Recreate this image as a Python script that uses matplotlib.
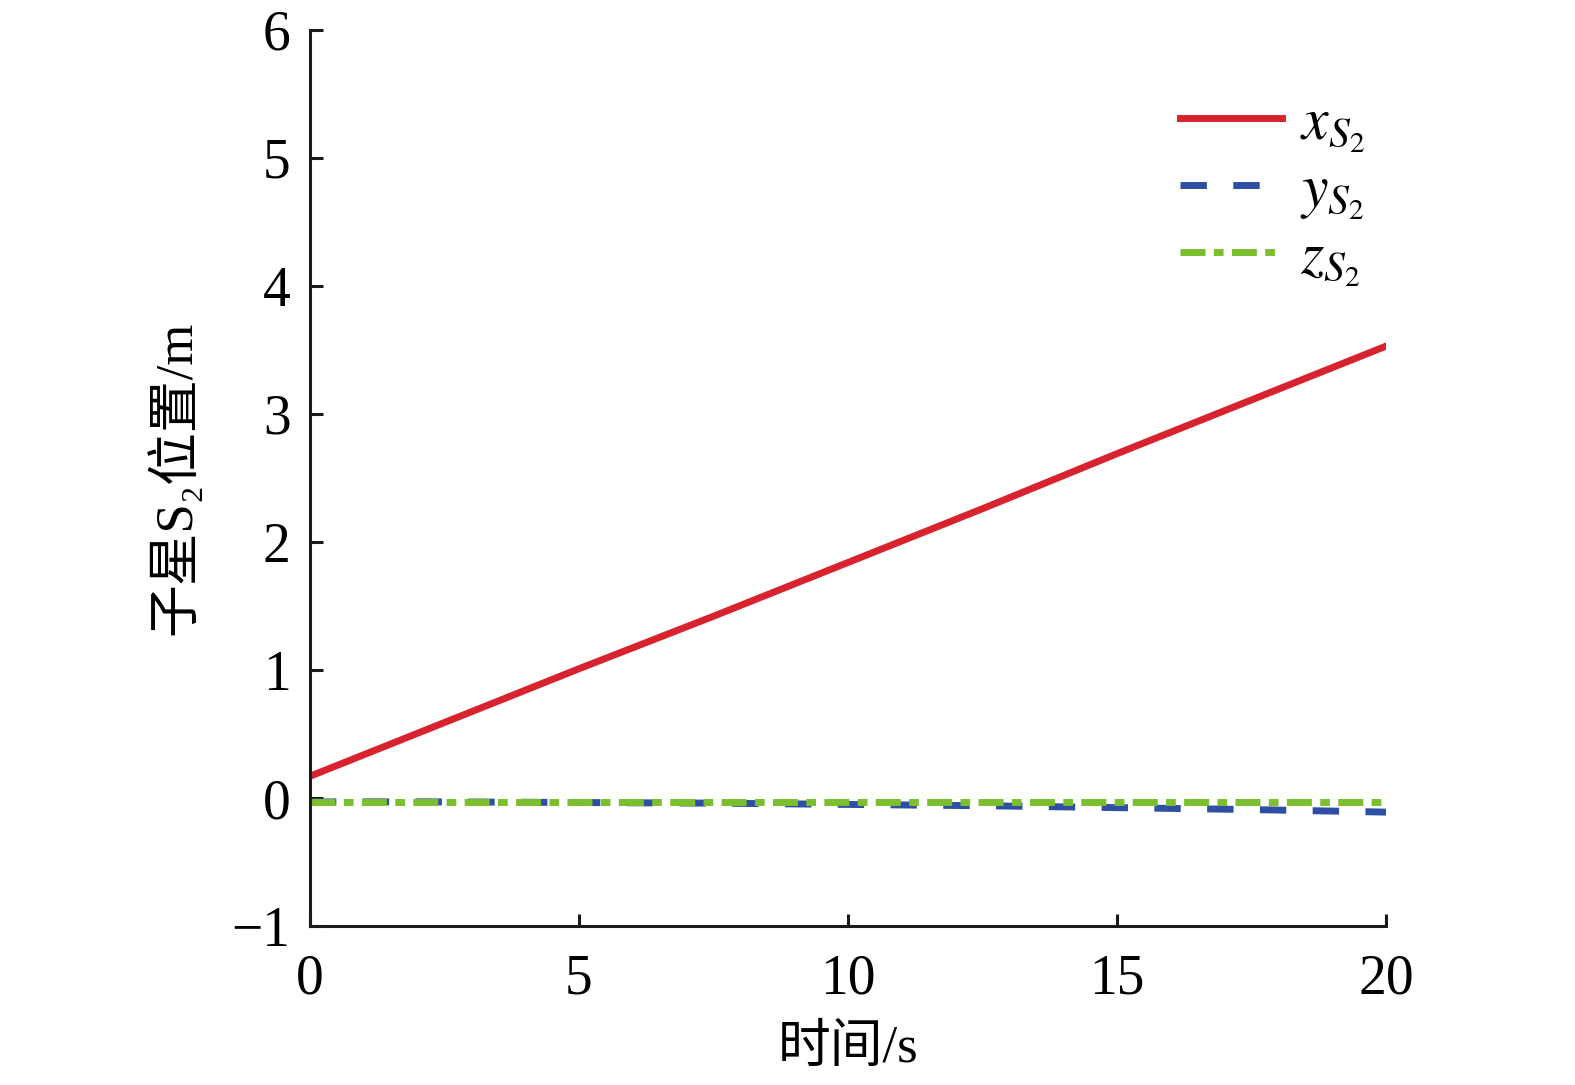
import matplotlib
matplotlib.use("Agg")
import matplotlib.pyplot as plt

plt.rcParams['font.family'] = ['Liberation Serif', 'Noto Sans CJK SC', 'DejaVu Serif']
plt.rcParams['mathtext.fontset'] = 'stix'
plt.rcParams['lines.scale_dashes'] = False

t = [0, 2.5, 5, 7.5, 10, 12.5, 15, 17.5, 20]
x_s2 = [0.17, 0.59, 1.01, 1.42, 1.84, 2.26, 2.69, 3.11, 3.53]
y_s2 = [-0.03, -0.03, -0.035, -0.04, -0.05, -0.06, -0.075, -0.09, -0.11]
z_s2 = [-0.03, -0.03, -0.03, -0.03, -0.03, -0.03, -0.03, -0.03, -0.03]

fig = plt.figure(figsize=(15.75, 10.85), dpi=100)
ax = fig.add_axes([0.1968, 0.1465, 0.6832, 0.8259])

ax.plot(t, x_s2, color='#d8222e', lw=5, label=r'$x_{S_2}$')
ax.plot(t, y_s2, color='#2e4fa3', lw=5, dashes=(19, 19), label=r'$y_{S_2}$')
ax.plot(t, z_s2, color='#7bbf2e', lw=5, dashes=(18, 6, 7, 6), label=r'$z_{S_2}$')

ax.set_xlim(0, 20)
ax.set_ylim(-1, 6)
ax.set_xticks([0, 5, 10, 15, 20])
ax.set_yticks(range(-1, 7))
ax.spines['top'].set_visible(False)
ax.spines['right'].set_visible(False)
for s in ('left', 'bottom'):
    ax.spines[s].set_linewidth(2.2)
    ax.spines[s].set_color('#1a1a1a')
ax.tick_params(direction='in', length=9, width=2.2, labelsize=40, color='#1a1a1a')
ax.tick_params(axis='x', pad=20)
ax.tick_params(axis='y', pad=14)

ax.set_xlabel('时间/s', fontsize=38, labelpad=14)
ax.set_ylabel('子星S₂位置/m', fontsize=38, labelpad=22)

ax.legend(loc='upper right', bbox_to_anchor=(0.98, 0.925), frameon=False, fontsize=43,
          handlelength=1.7, handletextpad=0.3, labelspacing=0.16,
          borderaxespad=0, borderpad=0)

fig.savefig('out.png', dpi=100)
